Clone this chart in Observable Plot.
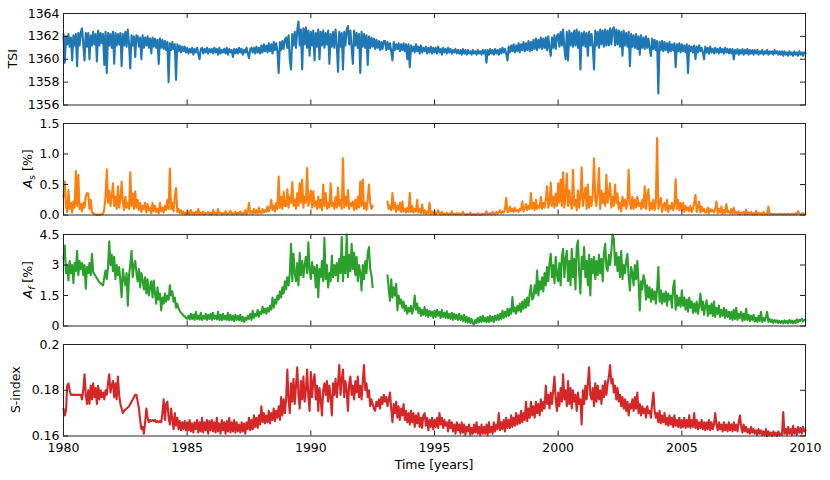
<!DOCTYPE html>
<html>
<head>
<meta charset="utf-8">
<script src="https://cdn.jsdelivr.net/npm/d3@7"></script>
<script src="https://cdn.jsdelivr.net/npm/@observablehq/plot@0.6"></script>
<style>
  html, body { margin: 0; padding: 0; background: #fff; }
  #chart { position: relative; width: 830px; height: 480px; overflow: hidden; }
  #chart svg { position: absolute; left: 0; }
</style>
</head>
<body>
<div id="chart"></div>
<script>
// ---- data (one row per year, 0.05-year sampling) ----
const startYear = 1980;
const step = 0.05;

const tsiValues = [
  1362.2,1359.7,1362.0,1361.3,1362.2,1361.1,1361.9,1359.9,1362.1,1361.2,1362.2,1359.4,1362.3,1361.2,1362.4,1362.7,1361.3,1359.9,1362.3,1361.1,
  1362.3,1360.0,1362.1,1361.2,1362.4,1361.3,1362.2,1359.8,1362.5,1361.2,1362.3,1361.4,1362.2,1359.5,1362.4,1358.8,1362.3,1361.2,1362.2,1361.0,
  1362.4,1359.6,1362.3,1361.2,1362.2,1361.3,1362.3,1359.4,1362.2,1361.2,1362.4,1361.1,1362.6,1361.3,1359.2,1362.1,1361.2,1362.0,1360.2,1362.1,
  1362.0,1361.1,1361.9,1360.0,1362.1,1361.0,1361.9,1361.2,1362.0,1361.0,1361.8,1360.5,1361.9,1361.1,1361.8,1361.0,1361.7,1359.6,1361.8,1361.0,
  1361.7,1360.9,1361.6,1360.8,1361.5,1358.0,1361.4,1360.8,1361.5,1360.9,1361.3,1358.2,1361.3,1360.7,1361.2,1360.6,1361.1,1360.7,1361.1,1360.6,
  1361.0,1360.5,1360.9,1360.6,1361.0,1360.4,1360.9,1360.6,1361.0,1360.5,1360.0,1360.9,1361.0,1360.5,1360.9,1360.6,1361.0,1360.5,1360.9,1360.6,
  1360.9,1360.5,1361.0,1360.6,1360.9,1360.4,1361.0,1360.5,1360.8,1360.6,1360.9,1360.5,1361.0,1360.4,1360.9,1360.6,1360.8,1360.2,1360.9,1360.5,
  1360.9,1360.5,1361.0,1360.6,1360.9,1360.4,1360.8,1360.6,1361.0,1360.5,1360.1,1360.9,1361.0,1360.6,1361.0,1360.5,1361.1,1360.6,1361.0,1360.5,
  1361.2,1360.6,1361.3,1360.7,1361.2,1360.6,1361.4,1360.7,1361.3,1360.5,1361.5,1360.8,1361.4,1360.7,1358.8,1361.5,1360.8,1361.6,1360.9,1361.7,
  1361.9,1361.0,1362.1,1360.0,1359.1,1362.2,1361.2,1362.4,1361.0,1362.5,1363.3,1361.2,1362.6,1359.1,1362.7,1361.3,1362.8,1361.0,1362.5,1360.3,
  1362.4,1361.2,1362.5,1359.9,1362.3,1361.1,1362.6,1360.0,1362.4,1361.2,1362.5,1361.0,1362.3,1361.3,1362.5,1359.6,1362.2,1361.1,1362.4,1361.0,
  1362.6,1361.2,1358.9,1362.4,1361.1,1362.3,1359.1,1362.4,1361.2,1362.6,1362.9,1361.3,1362.5,1361.0,1359.6,1362.5,1361.2,1362.3,1361.0,1362.2,
  1358.8,1362.4,1361.1,1362.2,1361.0,1362.1,1359.5,1362.0,1361.0,1361.9,1361.1,1361.8,1360.9,1361.7,1361.0,1361.6,1360.8,1361.5,1360.9,1361.6,
  1361.6,1360.8,1361.5,1360.9,1361.4,1360.7,1359.9,1361.5,1360.8,1361.3,1360.9,1361.4,1360.7,1361.3,1360.8,1361.4,1360.7,1361.3,1360.0,1361.3,
  1359.3,1361.2,1360.7,1361.1,1360.6,1361.3,1360.7,1361.1,1360.5,1361.2,1360.6,1361.0,1360.7,1361.1,1360.5,1361.0,1360.6,1361.1,1360.5,1361.0,
  1360.6,1361.0,1360.5,1361.1,1360.6,1360.9,1360.4,1361.0,1360.6,1360.9,1360.5,1361.0,1360.6,1360.9,1360.5,1360.8,1360.6,1360.9,1360.5,1360.8,
  1360.5,1360.8,1360.4,1360.9,1360.5,1360.8,1360.4,1360.8,1360.5,1360.7,1360.4,1360.8,1360.5,1360.7,1360.4,1360.8,1360.5,1360.7,1360.4,1360.8,
  1360.5,1360.8,1359.7,1360.8,1360.4,1360.9,1360.5,1360.8,1360.4,1360.9,1360.5,1360.8,1360.4,1360.9,1360.5,1361.0,1360.6,1360.9,1360.5,1359.9,
  1361.1,1360.6,1361.2,1360.7,1361.3,1360.6,1361.2,1360.7,1361.4,1360.6,1361.3,1360.8,1361.5,1360.7,1361.4,1360.8,1361.6,1360.7,1361.5,1360.8,
  1361.7,1360.9,1361.8,1360.8,1361.7,1361.0,1361.9,1360.9,1361.8,1361.0,1361.9,1360.8,1362.0,1361.0,1360.3,1361.9,1361.0,1362.1,1360.9,1362.0,
  1362.2,1361.1,1362.4,1361.2,1362.6,1361.0,1360.0,1362.4,1359.9,1362.5,1361.2,1362.3,1361.1,1362.5,1361.2,1362.6,1361.0,1362.4,1359.1,1362.3,
  1361.2,1362.4,1361.1,1362.3,1360.3,1362.4,1361.2,1362.2,1361.1,1359.1,1362.5,1361.2,1362.4,1361.0,1362.6,1361.3,1362.5,1361.1,1362.6,1361.2,
  1362.5,1361.2,1362.7,1361.3,1362.6,1362.8,1361.2,1362.6,1361.3,1362.5,1361.1,1362.4,1360.3,1362.5,1361.2,1362.3,1361.1,1362.4,1359.4,1362.2,
  1361.1,1362.1,1361.0,1362.2,1360.9,1362.0,1360.4,1362.1,1361.0,1361.9,1360.9,1362.0,1361.0,1361.8,1360.9,1360.3,1361.8,1360.9,1361.7,1360.8,
  1361.6,1357.0,1361.5,1360.8,1361.6,1360.7,1361.5,1360.8,1361.4,1360.6,1361.5,1360.7,1361.3,1360.8,1361.4,1359.3,1361.3,1360.7,1361.4,1360.6,
  1361.3,1360.7,1361.2,1360.6,1361.3,1358.8,1361.2,1360.7,1361.1,1360.6,1361.2,1360.0,1361.1,1360.6,1361.2,1360.7,1361.0,1360.6,1360.0,1361.1,
  1360.6,1361.0,1360.5,1361.1,1360.6,1360.9,1360.5,1361.0,1360.6,1360.9,1360.5,1361.0,1360.6,1360.9,1360.5,1361.0,1360.6,1360.9,1360.5,1360.9,
  1360.5,1360.9,1360.0,1360.8,1360.5,1360.9,1360.4,1360.8,1360.5,1360.9,1360.4,1360.8,1360.5,1360.9,1360.4,1360.8,1360.5,1360.8,1360.4,1360.8,
  1360.5,1360.8,1360.4,1360.7,1360.5,1360.8,1360.4,1360.7,1360.5,1360.8,1360.4,1360.7,1360.5,1360.7,1360.4,1360.8,1360.5,1360.7,1360.4,1360.7,
  1360.4,1360.7,1360.3,1360.7,1360.4,1360.6,1360.3,1360.7,1360.4,1360.6,1360.3,1360.7,1360.4,1360.6,1360.3,1360.7,1360.4,1360.6,1360.3,1360.6,
  1360.5
];

const asValues = [
  0.30,0.55,0.14,0.05,0.41,0.10,0.20,0.04,0.22,0.12,0.72,0.15,0.66,0.10,0.18,0.06,0.20,0.12,0.30,0.36,
  0.35,0.10,0.25,0.05,0.03,0.01,0.01,0.00,0.01,0.00,0.01,0.01,0.02,0.10,0.30,0.75,0.20,0.40,0.15,0.30,
  0.52,0.15,0.30,0.10,0.47,0.12,0.25,0.55,0.20,0.08,0.30,0.12,0.20,0.10,0.70,0.15,0.35,0.10,0.39,0.12,
  0.25,0.08,0.20,0.05,0.15,0.10,0.20,0.04,0.18,0.08,0.12,0.03,0.20,0.06,0.15,0.05,0.10,0.03,0.20,0.06,
  0.12,0.04,0.15,0.08,0.25,0.10,0.76,0.10,0.20,0.06,0.30,0.44,0.05,0.10,0.03,0.08,0.02,0.06,0.01,0.04,
  0.02,0.06,0.01,0.08,0.02,0.04,0.01,0.05,0.02,0.10,0.01,0.04,0.02,0.06,0.01,0.03,0.02,0.05,0.01,0.04,
  0.01,0.08,0.02,0.03,0.01,0.10,0.02,0.04,0.01,0.03,0.02,0.06,0.01,0.02,0.03,0.07,0.01,0.03,0.02,0.05,
  0.01,0.04,0.02,0.06,0.01,0.03,0.02,0.08,0.01,0.05,0.20,0.03,0.06,0.02,0.10,0.03,0.08,0.02,0.12,0.04,
  0.03,0.10,0.04,0.08,0.05,0.14,0.06,0.12,0.25,0.08,0.15,0.06,0.20,0.10,0.63,0.12,0.30,0.10,0.38,0.15,
  0.15,0.42,0.12,0.30,0.20,0.54,0.15,0.25,0.10,0.36,0.15,0.52,0.20,0.58,0.12,0.30,0.20,0.77,0.15,0.25,
  0.40,0.12,0.39,0.15,0.22,0.10,0.30,0.12,0.25,0.08,0.50,0.15,0.36,0.10,0.20,0.12,0.52,0.15,0.20,0.10,
  0.30,0.12,0.45,0.15,0.25,0.10,0.93,0.12,0.30,0.15,0.41,0.10,0.20,0.15,0.22,0.08,0.25,0.10,0.30,0.12,
  0.55,0.15,0.58,0.10,0.20,0.08,0.25,0.50,0.20,0.10,0.15,null,null,null,null,null,null,null,null,null,
  null,null,0.22,0.10,0.15,0.08,0.36,0.10,0.20,0.05,0.15,0.08,0.20,0.05,0.22,0.06,0.10,0.04,0.12,0.05,
  0.36,0.05,0.15,0.04,0.10,0.06,0.25,0.04,0.10,0.03,0.17,0.03,0.08,0.02,0.06,0.03,0.20,0.02,0.05,0.02,
  0.06,0.01,0.03,0.08,0.02,0.01,0.05,0.01,0.02,0.01,0.04,0.01,0.02,0.01,0.06,0.01,0.02,0.01,0.03,0.01,
  0.03,0.01,0.02,0.05,0.01,0.00,0.02,0.01,0.01,0.04,0.00,0.01,0.02,0.00,0.01,0.03,0.01,0.00,0.02,0.01,
  0.02,0.01,0.06,0.01,0.02,0.03,0.01,0.05,0.02,0.01,0.05,0.02,0.04,0.08,0.03,0.06,0.04,0.10,0.28,0.05,
  0.05,0.14,0.06,0.10,0.05,0.12,0.06,0.08,0.05,0.10,0.08,0.22,0.06,0.12,0.18,0.08,0.15,0.10,0.36,0.10,
  0.20,0.08,0.25,0.10,0.15,0.12,0.30,0.10,0.20,0.12,0.25,0.47,0.12,0.20,0.53,0.15,0.30,0.12,0.35,0.15,
  0.52,0.20,0.58,0.15,0.70,0.12,0.30,0.68,0.15,0.40,0.20,0.10,0.74,0.15,0.25,0.08,0.40,0.12,0.30,0.78,
  0.15,0.30,0.45,0.10,0.50,0.12,0.30,0.15,0.35,0.93,0.25,0.15,0.40,0.77,0.10,0.40,0.20,0.35,0.15,0.66,
  0.20,0.35,0.52,0.12,0.30,0.15,0.50,0.20,0.35,0.10,0.20,0.06,0.30,0.15,0.25,0.10,0.20,0.74,0.20,0.10,
  0.30,0.10,0.25,0.12,0.30,0.15,0.20,0.10,0.25,0.12,0.47,0.10,0.30,0.42,0.08,0.20,0.10,0.25,0.08,0.20,
  1.26,0.10,0.20,0.28,0.05,0.15,0.20,0.08,0.25,0.05,0.15,0.10,0.20,0.08,0.15,0.59,0.10,0.25,0.08,0.20,
  0.08,0.20,0.05,0.15,0.08,0.12,0.06,0.15,0.05,0.10,0.20,0.33,0.05,0.12,0.22,0.04,0.14,0.06,0.10,0.04,
  0.05,0.12,0.03,0.10,0.06,0.08,0.04,0.10,0.22,0.03,0.10,0.04,0.14,0.02,0.08,0.03,0.18,0.04,0.06,0.03,
  0.10,0.02,0.12,0.03,0.05,0.02,0.06,0.01,0.04,0.02,0.05,0.01,0.09,0.01,0.04,0.02,0.05,0.01,0.03,0.01,
  0.07,0.01,0.04,0.02,0.03,0.01,0.05,0.01,0.02,0.01,0.14,0.01,0.02,0.01,0.01,0.02,0.01,0.01,0.02,0.01,
  0.02,0.01,0.01,0.02,0.01,0.01,0.02,0.01,0.01,0.02,0.01,0.01,0.03,0.01,0.06,0.02,0.01,0.02,0.03,0.01,
  0.02
];

const afValues = [
  3.3,3.96,2.6,3.0,2.24,3.2,2.6,3.0,2.1,3.1,2.7,3.7,2.5,3.2,2.8,3.1,2.5,3.0,1.83,2.9,
  2.6,3.1,2.5,3.55,2.65,2.55,2.45,2.35,2.25,2.15,2.1,2.05,2.0,2.4,2.73,2.3,2.9,4.17,3.0,3.5,
  2.7,3.4,2.3,3.0,2.5,2.9,2.2,1.42,2.8,2.3,2.0,2.6,1.0,2.5,3.0,3.7,2.4,3.0,3.2,2.6,
  2.2,2.8,1.9,2.6,2.24,1.8,2.4,1.6,2.3,1.5,1.9,2.2,1.4,2.24,1.6,1.1,1.9,1.3,1.6,0.77,
  1.4,1.1,1.6,1.2,1.5,1.3,2.0,1.5,1.7,1.2,1.4,0.9,1.1,0.85,0.75,0.65,0.6,0.5,0.48,0.4,
  0.36,0.5,0.32,0.6,0.35,0.55,0.3,0.7,0.35,0.5,0.32,0.65,0.3,0.5,0.35,0.6,0.3,0.55,0.35,0.6,
  0.3,0.65,0.35,0.5,0.32,0.7,0.3,0.55,0.28,0.6,0.32,0.5,0.3,0.65,0.28,0.55,0.3,0.5,0.25,0.55,
  0.3,0.5,0.28,0.55,0.25,0.45,0.2,0.4,0.3,0.5,0.35,0.6,0.3,0.75,0.4,0.6,0.5,0.8,0.45,0.7,
  0.6,0.95,0.65,0.85,0.6,0.9,0.7,1.0,0.8,1.4,0.9,1.3,1.1,1.5,1.3,1.7,1.4,1.9,1.6,2.2,
  1.8,2.4,2.0,2.6,4.04,2.2,3.55,2.6,2.2,3.1,2.0,3.6,2.5,3.2,2.4,3.0,3.4,2.6,4.12,2.8,
  2.3,3.14,2.6,2.9,1.9,3.0,1.42,2.8,2.4,3.2,2.2,4.34,2.3,3.0,1.9,2.6,2.2,3.47,2.4,3.0,
  2.5,3.1,2.2,3.3,2.6,4.37,2.2,3.4,2.6,4.5,2.4,3.5,2.7,4.04,2.8,3.6,2.5,3.4,2.2,3.0,
  2.6,1.75,3.0,2.3,3.2,2.6,3.6,3.88,2.8,2.5,1.91,null,null,null,null,null,null,null,null,null,
  null,null,2.49,1.8,1.25,2.3,1.4,1.9,1.5,2.08,0.77,1.5,1.1,1.3,0.9,1.2,0.75,1.0,0.6,0.9,
  0.7,1.0,0.6,0.9,1.5,0.8,1.1,0.65,0.9,0.5,0.8,0.55,0.93,0.5,0.8,0.45,0.75,0.5,0.7,0.4,
  0.75,0.45,0.8,0.5,0.7,0.4,0.8,0.45,0.65,0.4,0.72,0.38,0.6,0.35,0.65,0.3,0.6,0.35,0.55,0.3,
  0.6,0.3,0.5,0.25,0.55,0.2,0.45,0.18,0.4,0.15,0.35,0.12,0.07,0.3,0.15,0.4,0.18,0.45,0.2,0.5,
  0.22,0.4,0.18,0.45,0.2,0.5,0.25,0.45,0.2,0.5,0.3,0.55,0.3,0.6,0.35,0.75,0.4,0.7,0.45,0.85,
  0.5,0.85,0.6,1.42,0.7,0.9,0.6,1.0,0.75,1.1,0.7,1.2,0.85,1.3,0.9,1.4,1.0,1.6,2.0,1.3,
  1.4,2.0,1.6,2.73,1.5,2.2,1.8,2.4,1.7,2.6,2.0,2.9,2.2,3.1,3.55,2.4,3.0,2.1,3.4,2.5,
  2.2,3.1,2.0,3.4,3.8,2.4,3.3,3.7,2.2,3.2,2.0,3.8,2.4,3.3,1.8,3.9,4.2,2.6,1.6,3.4,
  2.8,3.88,2.4,3.2,2.0,3.5,1.5,3.3,2.6,3.4,2.3,3.2,2.5,3.5,2.6,3.3,2.2,3.6,4.04,2.9,
  2.7,3.5,3.0,3.7,4.5,4.3,3.0,3.6,2.7,3.4,2.4,3.7,2.3,3.0,2.6,3.2,3.55,2.4,1.75,2.9,
  2.6,2.0,3.0,2.3,3.2,2.2,0.77,2.2,1.8,2.5,2.24,1.3,2.0,1.4,1.9,1.2,1.8,1.3,1.7,1.1,
  1.8,2.9,1.2,1.75,1.1,1.6,1.2,1.7,1.0,1.6,1.3,1.5,0.9,1.9,2.24,0.8,1.5,1.0,1.4,0.95,
  1.75,1.0,1.4,0.8,1.3,0.7,1.4,0.9,1.2,0.65,1.1,0.7,1.2,0.6,1.0,1.6,0.8,1.2,0.55,1.0,
  1.26,0.5,1.0,0.6,1.1,0.5,1.2,0.45,0.9,0.6,1.0,0.45,0.8,0.5,0.9,0.4,0.8,0.45,0.7,0.35,
  0.7,0.3,0.8,0.35,0.9,0.3,0.6,0.4,0.7,0.25,0.6,0.3,0.85,0.3,0.55,0.25,0.5,0.3,0.55,0.22,
  0.4,0.2,0.5,0.25,0.7,0.2,0.4,0.25,0.45,0.7,0.2,0.35,0.2,0.3,0.15,0.3,0.18,0.28,0.15,0.25,
  0.15,0.25,0.13,0.28,0.15,0.25,0.13,0.3,0.15,0.27,0.13,0.25,0.15,0.33,0.2,0.3,0.25,0.36,0.22,0.3,
  0.3
];

const sValues = [
  0.172,0.169,0.171,0.182,0.183,0.180,0.178,0.178,0.178,0.178,0.178,0.178,0.178,0.178,0.178,0.176,0.180,0.187,0.178,0.174,
  0.180,0.174,0.182,0.176,0.183,0.177,0.181,0.174,0.182,0.176,0.180,0.177,0.179,0.176,0.180,0.178,0.183,0.187,0.179,0.182,
  0.184,0.177,0.183,0.176,0.186,0.178,0.174,0.172,0.170,0.171,0.1715,0.172,0.1725,0.173,0.174,0.175,0.176,0.177,0.178,0.178,
  0.175,0.172,0.167,0.163,0.164,0.161,0.166,0.172,0.168,0.166,0.167,0.1665,0.167,0.1665,0.167,0.166,0.1665,0.166,0.1665,0.166,
  0.170,0.176,0.167,0.174,0.175,0.168,0.165,0.172,0.167,0.163,0.170,0.1645,0.168,0.163,0.1665,0.1625,0.166,0.163,0.1665,0.1625,
  0.166,0.1625,0.167,0.162,0.1655,0.1615,0.166,0.163,0.167,0.1615,0.166,0.162,0.168,0.1615,0.166,0.1625,0.167,0.161,0.1665,0.1625,
  0.167,0.162,0.166,0.1615,0.168,0.162,0.1655,0.161,0.167,0.1625,0.166,0.161,0.1665,0.162,0.168,0.1615,0.166,0.162,0.167,0.1615,
  0.166,0.162,0.165,0.1615,0.166,0.162,0.1655,0.161,0.166,0.163,0.168,0.1625,0.167,0.163,0.169,0.164,0.168,0.1635,0.169,0.165,
  0.173,0.166,0.170,0.1655,0.169,0.166,0.171,0.1655,0.170,0.167,0.172,0.1665,0.171,0.168,0.173,0.167,0.177,0.169,0.176,0.170,
  0.176,0.189,0.176,0.170,0.183,0.175,0.185,0.174,0.182,0.190,0.178,0.172,0.184,0.176,0.186,0.175,0.180,0.189,0.177,0.171,
  0.188,0.177,0.184,0.187,0.176,0.182,0.171,0.181,0.176,0.169,0.180,0.183,0.178,0.184,0.175,0.182,0.177,0.169,0.183,0.178,
  0.185,0.177,0.183,0.191,0.178,0.185,0.189,0.177,0.184,0.180,0.171,0.183,0.186,0.178,0.182,0.176,0.184,0.179,0.186,0.177,
  0.182,0.176,0.184,0.191,0.180,0.183,0.177,0.180,0.173,0.176,0.174,0.172,0.171,0.175,0.173,0.176,0.172,0.177,0.174,0.178,
  0.175,0.177,0.173,0.176,0.179,0.172,0.166,0.174,0.170,0.175,0.168,0.173,0.167,0.172,0.169,0.174,0.167,0.171,0.166,0.170,
  0.165,0.171,0.166,0.170,0.164,0.169,0.1655,0.170,0.164,0.168,0.1635,0.169,0.170,0.1645,0.168,0.1625,0.167,0.164,0.168,0.163,
  0.167,0.164,0.168,0.1635,0.170,0.165,0.168,0.1635,0.167,0.1645,0.166,0.162,0.167,0.1635,0.166,0.162,0.165,0.161,0.166,0.1625,
  0.165,0.161,0.166,0.1615,0.165,0.1605,0.164,0.162,0.165,0.1605,0.1635,0.161,0.165,0.1615,0.166,0.161,0.164,0.1605,0.165,0.161,
  0.164,0.161,0.165,0.1605,0.166,0.1615,0.164,0.161,0.166,0.162,0.165,0.163,0.170,0.1625,0.166,0.163,0.167,0.162,0.168,0.1635,
  0.167,0.1635,0.169,0.164,0.168,0.1645,0.170,0.165,0.169,0.1655,0.171,0.166,0.170,0.167,0.175,0.1665,0.172,0.168,0.175,0.169,
  0.173,0.168,0.175,0.170,0.174,0.169,0.176,0.171,0.175,0.172,0.182,0.174,0.178,0.172,0.179,0.174,0.180,0.186,0.176,0.171,
  0.179,0.173,0.181,0.175,0.187,0.176,0.180,0.173,0.184,0.174,0.181,0.172,0.180,0.175,0.178,0.171,0.179,0.174,0.176,0.165,
  0.180,0.174,0.182,0.176,0.183,0.190,0.178,0.176,0.181,0.173,0.183,0.175,0.182,0.176,0.180,0.174,0.182,0.177,0.184,0.178,
  0.183,0.186,0.191,0.183,0.185,0.179,0.182,0.176,0.181,0.175,0.178,0.173,0.177,0.172,0.176,0.171,0.175,0.169,0.174,0.172,
  0.176,0.171,0.177,0.172,0.179,0.170,0.174,0.169,0.173,0.170,0.172,0.168,0.173,0.170,0.171,0.168,0.174,0.179,0.171,0.168,
  0.170,0.166,0.171,0.1655,0.169,0.166,0.170,0.165,0.168,0.1645,0.169,0.165,0.168,0.164,0.169,0.1645,0.167,0.164,0.168,0.1635,
  0.167,0.164,0.168,0.1635,0.167,0.164,0.169,0.1635,0.167,0.164,0.170,0.1635,0.167,0.163,0.166,0.1635,0.167,0.163,0.166,0.1625,
  0.166,0.163,0.167,0.1625,0.166,0.163,0.165,0.170,0.165,0.1625,0.166,0.163,0.165,0.162,0.166,0.1625,0.165,0.162,0.166,0.1625,
  0.165,0.162,0.166,0.1625,0.165,0.162,0.166,0.169,0.164,0.1615,0.165,0.162,0.164,0.1615,0.163,0.161,0.164,0.1615,0.163,0.161,
  0.1625,0.1605,0.163,0.161,0.1625,0.1605,0.162,0.1605,0.163,0.160,0.162,0.1605,0.1615,0.160,0.162,0.1605,0.1615,0.160,0.162,0.1605,
  0.161,0.1605,0.1705,0.161,0.163,0.1605,0.164,0.161,0.163,0.1605,0.1645,0.161,0.163,0.1605,0.164,0.1615,0.1635,0.161,0.164,0.162,
  0.1625
];

const xTicks = [1980, 1985, 1990, 1995, 2000, 2005, 2010];
const xTickLabels = ["1980", "1985", "1990", "1995", "2000", "2005", "2010"];

const tsiTicks = [1356, 1358, 1360, 1362, 1364];
const tsiTickLabels = ["1356", "1358", "1360", "1362", "1364"];
const asTicks = [0, 0.5, 1.0, 1.5];
const asTickLabels = ["0.0", "0.5", "1.0", "1.5"];
const afTicks = [0, 1.5, 3, 4.5];
const afTickLabels = ["0", "1.5", "3", "4.5"];
const sTicks = [0.16, 0.18, 0.2];
const sTickLabels = ["0.16", "0.18", "0.2"];

const colors = ["#1f77b4", "#ff7f0e", "#2ca02c", "#d62728"];

// ---- build table ----
const toRows = vals => vals.map((v, i) => ({ t: startYear + i * step, v }));

// ---- layout ----
const W = 830, ML = 63, MR = 25, MT = 13, PH = 91.5;
const FONT = "DejaVu Sans";
const TL = 5; // tick length (inward)

function panel({ values, color, domain, ticks, labels, showX, marginBottom }) {
  const height = MT + PH + marginBottom;
  const pw = W - ML - MR;
  const yFmt = new Map(ticks.map((d, i) => [d, labels[i]]));
  const xFmt = new Map(xTicks.map((d, i) => [d, xTickLabels[i]]));
  const tickStyle = { stroke: "#222", strokeWidth: 1 };
  return Plot.plot({
    width: W, height,
    marginLeft: ML, marginRight: MR, marginTop: MT, marginBottom,
    style: { fontFamily: FONT, fontSize: "12.5px", color: "#000", background: "transparent", overflow: "visible" },
    x: { domain: [1980, 2010], label: null, axis: null },
    y: { domain, label: null, axis: null },
    marks: [
      Plot.line(toRows(values), { x: "t", y: "v", stroke: color, strokeWidth: 2.1 }),
      Plot.tickX(xTicks, { x: d => d, insetTop: PH - TL, ...tickStyle }),
      Plot.tickX(xTicks, { x: d => d, insetBottom: PH - TL, ...tickStyle }),
      Plot.tickY(ticks, { y: d => d, insetRight: pw - TL, ...tickStyle }),
      Plot.tickY(ticks, { y: d => d, insetLeft: pw - TL, ...tickStyle }),
      Plot.frame({ stroke: "#222", strokeWidth: 1 }),
      Plot.axisY(ticks, { tickSize: 0, tickPadding: 4, label: null, tickFormat: d => yFmt.get(d), fontSize: 12.5 }),
      showX ? Plot.axisX(xTicks, { tickSize: 0, tickPadding: 7, label: null, tickFormat: d => xFmt.get(d), fontSize: 12.5 }) : null
    ]
  });
}

const specs = [
  { values: tsiValues, color: colors[0], domain: [1356, 1364], ticks: tsiTicks, labels: tsiTickLabels, top: 0.3, mb: 6, lx: 13, label: [["TSI", {}]] },
  { values: asValues, color: colors[1], domain: [0, 1.5], ticks: asTicks, labels: asTickLabels, top: 110.3, mb: 6, lx: 28, label: [["A", { italic: true }], ["s", { sub: true }], [" [%]", {}]] },
  { values: afValues, color: colors[2], domain: [0, 4.5], ticks: afTicks, labels: afTickLabels, top: 221, mb: 6, lx: 28, label: [["A", { italic: true }], ["f", { sub: true, italic: true }], [" [%]", {}]] },
  { values: sValues, color: colors[3], domain: [0.16, 0.2], ticks: sTicks, labels: sTickLabels, top: 331.3, mb: 44.5, lx: 16, label: [["S-index", {}]], showX: true }
];

const chart = d3.select("#chart");
specs.forEach(s => {
  const svg = panel({ values: s.values, color: s.color, domain: s.domain, ticks: s.ticks, labels: s.labels, showX: !!s.showX, marginBottom: s.mb });
  svg.style.top = s.top + "px";
  chart.node().appendChild(svg);
  const g = d3.select(svg);
  const cy = MT + PH / 2;
  const txt = g.append("text")
    .attr("transform", `translate(${s.lx},${cy}) rotate(-90)`)
    .attr("text-anchor", "middle")
    .attr("dy", "0.35em")
    .attr("font-family", FONT)
    .attr("font-size", 12.5)
    .attr("fill", "#000");
  s.label.forEach(([str, o]) => {
    const ts = txt.append("tspan").text(str);
    if (o.italic) ts.attr("font-style", "italic");
    if (o.sub) ts.attr("font-size", 9).attr("dy", "0.25em");
    else if (str.startsWith(" ")) ts.attr("dy", "-0.18em");
  });
  if (s.showX) {
    g.append("text")
      .attr("x", ML + (W - ML - MR) / 2)
      .attr("y", 133.7)
      .attr("dy", "0.35em")
      .attr("text-anchor", "middle")
      .attr("font-family", FONT)
      .attr("font-size", 12.5)
      .attr("fill", "#000")
      .text("Time [years]");
  }
});
</script>
</body>
</html>
